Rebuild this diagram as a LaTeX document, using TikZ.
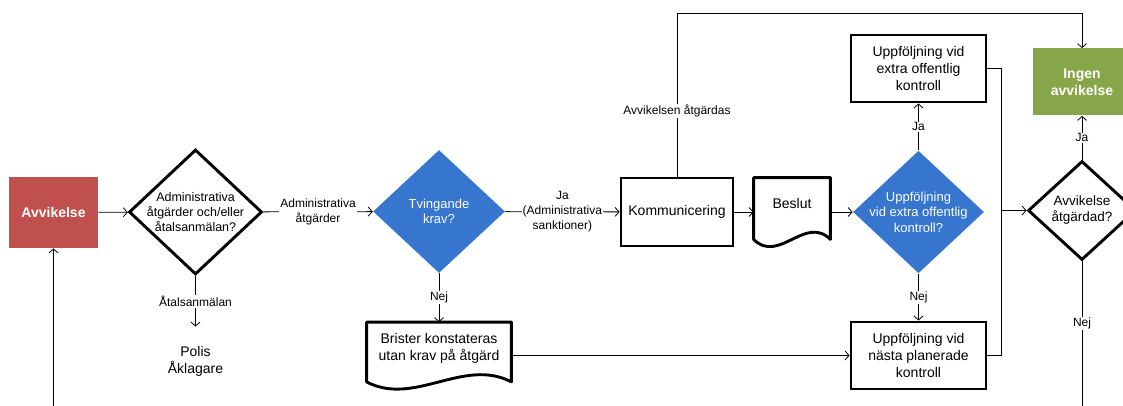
\documentclass[tikz,border=0pt]{standalone}
\usepackage{fontspec}
\setmainfont{Liberation Sans}
\usetikzlibrary{shapes.geometric, arrows.meta, calc}

\definecolor{avvred}{HTML}{C0504D}
\definecolor{okgreen}{HTML}{87A64A}
\definecolor{qblue}{HTML}{3776CE}

\newcommand{\boxfont}{\fontsize{14}{17}\selectfont}
\newcommand{\qfont}{\fontsize{13}{15.5}\selectfont}
\newcommand{\lblfont}{\fontsize{12}{15}\selectfont}

% document shape: straight top and sides, wavy bottom
\newcommand{\docoutline}[1]{%
	\coordinate (#1-r) at ([yshift=7pt]#1.south east);
	\coordinate (#1-l) at ([yshift=7pt]#1.south west);
	\draw[line width=2.9pt, line join=round] (#1-l) -- (#1.north west) -- (#1.north east) -- (#1-r)
		.. controls ($(#1-r)!0.33!(#1-l)+(0,25)$) and ($(#1-r)!0.67!(#1-l)+(0,-25)$) .. (#1-l) -- cycle;}

\begin{document}
\begin{tikzpicture}[x=1pt, y=1pt, line width=0.8pt, >={Straight Barb[length=4pt,width=9pt]},
	box/.style={draw, line width=2.9pt, rectangle, align=center, font=\boxfont, minimum width=135pt, minimum height=67pt},
	doc/.style={rectangle, align=center, font=\boxfont, text depth=17pt},
	decision/.style={draw, line width=2.9pt, diamond, inner sep=-4pt, align=center, font=\qfont},
	question/.style={diamond, fill=qblue, text=white, inner sep=-4pt, align=center, font=\qfont},
	colbox/.style={rectangle, text=white, align=center, font=\boxfont\bfseries},
	lbl/.style={fill=white, inner sep=1pt, align=center, font=\lblfont}]

	\useasboundingbox (0,0) rectangle (1123,405);
	\clip (0,0) rectangle (1123,405);

	\node [colbox, fill=avvred, minimum width=89pt, minimum height=71pt]		(avv)     at (53.5,192.5) 	{Avvikelse};
	\node [decision, minimum width=133pt, minimum height=125pt, font=\fontsize{12.5}{15}\selectfont]
										(d1)      at (195.5,193)  	{Administrativa\\åtgärder och/eller\\åtalsanmälan?};
	\node [align=center, font=\boxfont, minimum height=68pt]		(polis)   at (195.5,44)   	{Polis\\Åklagare};
	\node [question, minimum width=132pt, minimum height=123pt]		(tving)   at (439,193.5)  	{Tvingande\\krav?};
	\node [box, minimum width=112pt, minimum height=68pt]			(komm)    at (677,193)    	{Kommunicering};
	\node [doc, minimum width=76pt, minimum height=68pt]			(beslut)  at (792,193)    	{Beslut};
	\node [doc, minimum width=144pt, minimum height=66pt]			(brister) at (439,49.5)   	{Brister konstateras\\utan krav på åtgärd};
	\node [question, minimum width=131pt, minimum height=122pt]		(extraq)  at (918.5,193)  	{Uppföljning\\vid extra offentlig\\kontroll?};
	\node [box]								(extra)   at (918.5,336.5)	{Uppföljning vid\\extra offentlig\\kontroll};
	\node [box]								(nasta)   at (918.5,49.5) 	{Uppföljning vid\\nästa planerade\\kontroll};
	\node [decision, minimum width=108pt, minimum height=99pt, font=\fontsize{13.5}{16}\selectfont]
										(atg)     at (1082,194.5) 	{Avvikelse\\åtgärdad?};
	\node [colbox, fill=okgreen, minimum width=98pt, minimum height=67pt]	(ingen)   at (1082,323)   	{Ingen\\avvikelse};

	\docoutline{beslut}
	\docoutline{brister}

	\coordinate (topright) at (1082,392);
	\coordinate (join)     at (1001,194.5);
	\coordinate (back)     at (53.5,-20);

	\path[->] (avv) edge (d1);
	\path[->] (d1) edge node[lbl] {Administrativa\\åtgärder} (tving);
	\path[->] (d1) edge node[lbl] {Åtalsanmälan} (polis);
	\path[->] (tving) edge node[lbl] {Ja\\(Administrativa\\sanktioner)} (komm);
	\path[->] (tving) edge node[lbl] {Nej} (brister);
	\path[->] (komm) edge (beslut);
	\path[->] (beslut) edge (extraq);
	\path[->] (extraq) edge node[lbl] {Ja} (extra);
	\path[->] (extraq) edge node[lbl] {Nej} (nasta);
	\path[->] (brister) edge (nasta);
	\path[->] (atg) edge node[lbl] {Ja} (ingen);

	\draw (extra) -| (join);
	\draw (nasta) -| (join);
	\draw[->] (join) -- (atg);
	\draw[->] (komm.north) |- node[lbl, pos=0.2] {Avvikelsen åtgärdas} (topright) -- (ingen);
	\draw[->] (atg.south) |- node[lbl, pos=0.19] {Nej} (back) -- (avv);
\end{tikzpicture}
\end{document}
